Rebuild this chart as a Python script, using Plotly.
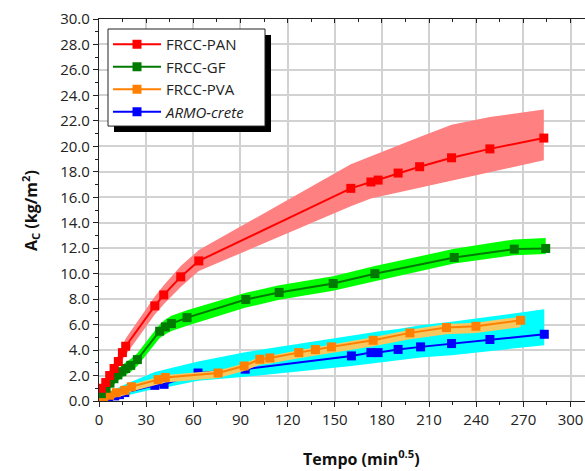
import plotly.graph_objects as go

# Tempo (min^0.5) and A_C (kg/m^2): mean curve and band limits per mix
pan_x = [1.5, 4.3, 6.8, 9.6, 12.3, 14.9, 17.0, 35.5, 41.2, 52.0, 63.5, 160.2, 173.0, 177.6, 190.3, 204.0, 224.3, 248.7, 283.0]
pan_y = [1.0, 1.45, 2.0, 2.55, 3.1, 3.8, 4.3, 7.47, 8.33, 9.75, 11.0, 16.7, 17.2, 17.35, 17.9, 18.4, 19.1, 19.8, 20.65]
pan_hi = [1.3, 1.8, 2.4, 3.0, 3.6, 4.35, 4.9, 8.2, 9.1, 10.6, 11.85, 18.6, 19.2, 19.45, 20.07, 20.73, 21.7, 22.3, 22.9]
pan_lo = [0.7, 1.1, 1.6, 2.1, 2.6, 3.25, 3.7, 6.8, 7.6, 8.95, 10.2, 15.3, 15.9, 16.02, 16.37, 16.74, 17.29, 17.95, 18.9]

gf_x = [1.5, 4.5, 7.0, 9.5, 12.0, 14.5, 17.0, 20.2, 24.4, 38.6, 42.2, 46.1, 56.0, 93.4, 114.6, 149.0, 175.5, 226.0, 264.2, 284.2]
gf_y = [0.58, 1.0, 1.4, 1.75, 2.05, 2.3, 2.55, 2.8, 3.25, 5.48, 5.82, 6.08, 6.55, 7.97, 8.52, 9.23, 10.0, 11.27, 11.93, 11.98]
gf_hi = [0.9, 1.4, 1.85, 2.2, 2.5, 2.8, 3.05, 3.3, 3.75, 6.0, 6.4, 6.7, 7.13, 8.5, 9.1, 9.8, 10.6, 11.95, 12.69, 12.81]
gf_lo = [0.3, 0.6, 0.95, 1.3, 1.6, 1.85, 2.05, 2.3, 2.75, 4.95, 5.25, 5.5, 5.9, 7.34, 7.95, 8.65, 9.4, 10.8, 11.45, 11.55]

pva_x = [0.5, 3.0, 6.8, 11.0, 16.4, 20.6, 37.6, 42.2, 75.8, 92.3, 102.3, 108.7, 127.1, 137.7, 147.9, 174.4, 197.8, 221.1, 239.8, 268.2]
pva_y = [0.18, 0.3, 0.45, 0.65, 0.84, 1.12, 1.68, 1.85, 2.2, 2.75, 3.28, 3.38, 3.8, 4.04, 4.25, 4.77, 5.35, 5.77, 5.87, 6.34]
pva_hi = [0.3, 0.45, 0.6, 0.8, 1.0, 1.3, 1.88, 2.05, 2.4, 2.95, 3.45, 3.55, 3.98, 4.22, 4.45, 5.0, 5.6, 6.05, 6.15, 6.62]
pva_lo = [0.0, 0.05, 0.15, 0.3, 0.45, 0.75, 1.3, 1.45, 1.8, 2.35, 2.85, 2.95, 3.35, 3.6, 3.8, 4.3, 4.85, 5.25, 5.35, 5.8]

armo_x = [3.4, 6.0, 10.0, 13.0, 16.4, 35.5, 41.4, 63.0, 93.0, 160.6, 173.0, 177.6, 190.3, 204.6, 224.3, 248.7, 283.3]
armo_y = [0.05, 0.2, 0.4, 0.5, 0.66, 1.23, 1.31, 2.2, 2.5, 3.54, 3.8, 3.8, 4.05, 4.25, 4.51, 4.83, 5.24]
armo_hi = [0.35, 0.6, 0.9, 1.1, 1.3, 2.28, 2.45, 3.1, 3.83, 5.14, 5.35, 5.45, 5.65, 5.95, 6.23, 6.63, 7.2]
armo_lo = [0.0, 0.05, 0.2, 0.3, 0.4, 0.97, 1.05, 1.6, 1.9, 2.75, 2.92, 2.99, 3.2, 3.42, 3.6, 3.93, 4.38]

x_ticks = list(range(0, 301, 30))

FONT = "Open Sans"

fig = go.Figure()


def band(x, hi, lo, color):
    fig.add_trace(go.Scatter(
        x=list(x) + list(x)[::-1], y=list(hi) + list(lo)[::-1],
        mode="lines", fill="toself", fillcolor=color,
        line=dict(width=0, color=color), hoverinfo="skip", showlegend=False))


def curve(x, y, name, color, rank):
    fig.add_trace(go.Scatter(
        x=x, y=y, name=name, mode="lines+markers", legendrank=rank,
        legendgroup=f"g{rank}",
        line=dict(color=color, width=2),
        marker=dict(symbol="square", size=9, color=color)))


band(pan_x, pan_hi, pan_lo, "#FF8080")
band(gf_x, gf_hi, gf_lo, "#00FF00")
band(armo_x, armo_hi, armo_lo, "#00FFFF")
curve(armo_x, armo_y, "<i>ARMO-crete</i>", "#0000FF", 4)
band(pva_x, pva_hi, pva_lo, "#F8C860")
curve(pva_x, pva_y, "FRCC-PVA", "#FF8000", 3)
curve(gf_x, gf_y, "FRCC-GF", "#007A00", 2)
curve(pan_x, pan_y, "FRCC-PAN", "#FF0000", 1)

# frame line with inward ticks along the top edge
fig.add_trace(go.Scatter(x=[], y=[], xaxis="x2", showlegend=False))

axis_font = dict(family=FONT, size=15, color="#222222")


def px_x(p):
    return (p - 99) / 486.0


def px_y(p):
    return (400.7 - p) / 381.7


fig.update_layout(
    width=585, height=471,
    margin=dict(l=99, r=0, t=19, b=70),
    paper_bgcolor="white", plot_bgcolor="white",
    font=dict(family=FONT, size=15, color="#222222"),
    xaxis=dict(range=[0, 309.2], tickvals=x_ticks, tickfont=axis_font,
               showgrid=True, gridcolor="#D2D2D2", gridwidth=1.5,
               showline=True, linecolor="#222222", linewidth=1.2,
               ticks="outside", ticklen=5, tickcolor="#222222",
               minor=dict(dtick=15, ticks="outside", ticklen=3, tickcolor="#222222", showgrid=False),
               zeroline=False),
    xaxis2=dict(range=[0, 309.2], overlaying="x", anchor="y", side="top",
                showticklabels=False, showgrid=False,
                showline=True, linecolor="#222222", linewidth=1.2,
                ticks="inside", ticklen=4, tickcolor="#222222", dtick=30, tick0=0,
                minor=dict(dtick=15, ticks="inside", ticklen=3, tickcolor="#222222"),
                zeroline=False),
    yaxis=dict(range=[0, 30], dtick=2, tickformat=".1f", tickfont=axis_font,
               showgrid=True, gridcolor="#D2D2D2", gridwidth=1.5,
               showline=True, linecolor="#222222", linewidth=1.2,
               ticks="outside", ticklen=5, tickcolor="#222222",
               minor=dict(dtick=1, ticks="outside", ticklen=3, tickcolor="#222222", showgrid=False),
               zeroline=False),
    legend=dict(x=px_x(108), y=px_y(28), xanchor="left", yanchor="top",
                bgcolor="rgba(0,0,0,0)", borderwidth=0,
                font=dict(family=FONT, size=15, color="#222222"),
                itemwidth=48, traceorder="grouped", tracegroupgap=0),
    shapes=[
        # legend frame: drop shadow, then white box with a thin border
        dict(type="rect", xref="paper", yref="paper",
             x0=px_x(114), x1=px_x(271), y0=px_y(132), y1=px_y(35),
             fillcolor="black", line=dict(width=0), layer="above"),
        dict(type="rect", xref="paper", yref="paper",
             x0=px_x(108), x1=px_x(265), y0=px_y(126), y1=px_y(29),
             fillcolor="white", line=dict(width=1, color="#222222"), layer="above"),
    ],
    annotations=[
        dict(text="<b>Tempo (min<sup>0.5</sup>)</b>", xref="paper", yref="paper",
             x=0.541, y=-0.15, xanchor="center", yanchor="middle", showarrow=False,
             font=dict(family=FONT, size=16, color="#111111")),
        dict(text="<b>A<sub>C</sub> (kg/m<sup>2</sup>)</b>", xref="paper", yref="paper",
             x=-0.142, y=0.5, xanchor="center", yanchor="middle", showarrow=False,
             textangle=-90, font=dict(family=FONT, size=16, color="#111111")),
    ],
)

fig.write_html("out.html")
